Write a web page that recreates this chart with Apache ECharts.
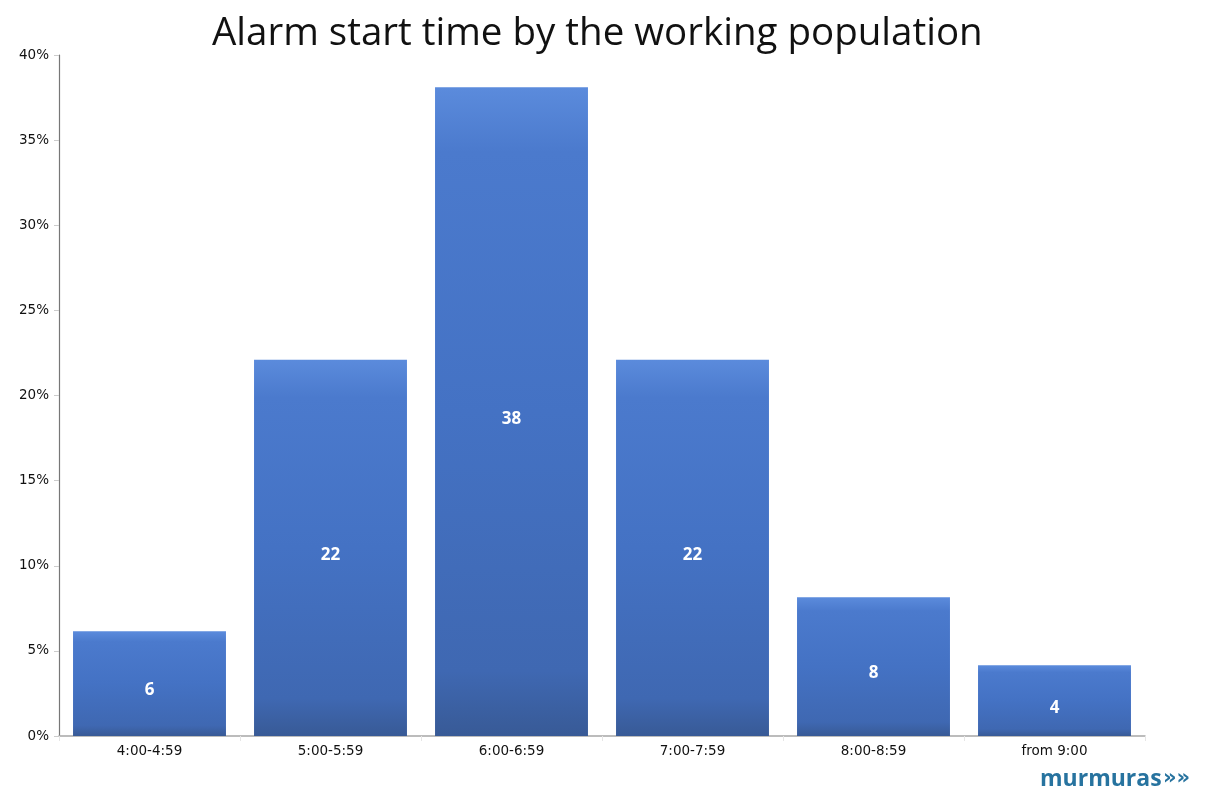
<!DOCTYPE html>
<html><head><meta charset="utf-8">
<script src="https://cdn.jsdelivr.net/npm/echarts@6/dist/echarts.min.js"></script>
<style>html,body{margin:0;padding:0;background:#fff}#c{width:1214px;height:796px}</style>
</head><body><div id="c"></div>
<script>
const titleText = 'Alarm start time by the working population';
const categories = ['4:00-4:59','5:00-5:59','6:00-6:59','7:00-7:59','8:00-8:59','from 9:00'];
const values = [6.15, 22.1, 38.1, 22.1, 8.15, 4.15];
const labels = ['6','22','38','22','8','4'];
const yTicks = [0,5,10,15,20,25,30,35,40];

const chart = echarts.init(document.getElementById('c'));
chart.setOption({
  animation:false,
  backgroundColor:'#fff',
  title:{text:titleText,left:207,top:10,textStyle:{fontFamily:'Open Sans',fontWeight:'normal',fontSize:38.5,color:'#111'}},
  grid:{left:59,right:69,top:55,bottom:60},
  xAxis:{type:'category',data:categories,
    axisLine:{lineStyle:{color:'#a6a6a6',width:1.5}},
    axisTick:{show:true,alignWithLabel:false,length:5,lineStyle:{color:'#e6e6e6'}},
    axisLabel:{color:'#111',fontFamily:'DejaVu Sans',fontSize:13.5,margin:8}},
  yAxis:{type:'value',min:yTicks[0],max:yTicks[yTicks.length-1],interval:5,
    axisLine:{show:true,lineStyle:{color:'#777',width:1.2}},
    axisTick:{show:true,length:5,lineStyle:{color:'#ccc'}},
    splitLine:{show:false},
    axisLabel:{color:'#111',fontFamily:'DejaVu Sans',fontSize:13.5,formatter:v=>v+'%',margin:10}},
  series:[{type:'bar',data:values,barCategoryGap:'15.5%',
    itemStyle:{color:new echarts.graphic.LinearGradient(0,0,0,1,[
      {offset:0,color:'#5b8bdc'},{offset:0.1,color:'#4b7acd'},{offset:0.5,color:'#4472c4'},{offset:0.9,color:'#3f68b2'},{offset:1,color:'#385a96'}])},
    label:{show:true,position:'inside',offset:[0,7],color:'#fff',fontFamily:'Open Sans',fontWeight:'bold',fontSize:17,
      formatter:p=>labels[p.dataIndex]}}],
  graphic:[
    {type:'text',left:1040,top:768,style:{text:'murmuras',fill:'#27739f',font:'bold 23px "Open Sans"'}},
    {type:'text',left:1163,top:768,style:{text:'»»',fill:'#27739f',font:'bold 21px "DejaVu Sans"'}}
  ]
});
</script></body></html>
